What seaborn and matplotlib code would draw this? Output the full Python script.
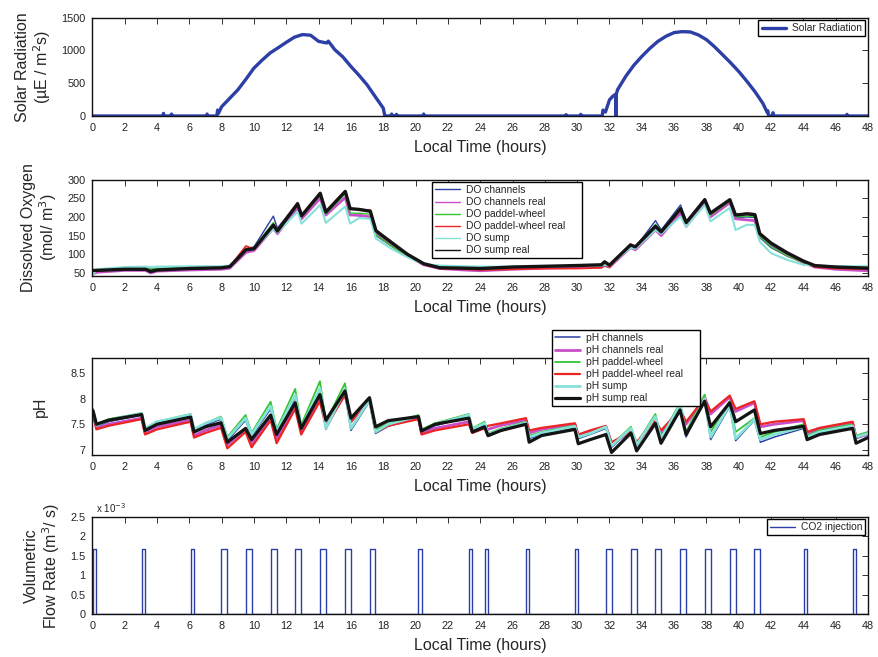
import matplotlib
matplotlib.use("Agg")
import matplotlib.pyplot as plt
import seaborn as sns
import pandas as pd

# ---------------- data ----------------
solar_t = [0, 4.38, 4.4, 4.42, 4.88, 4.9, 4.92, 7.08, 7.1, 7.12, 7.7, 7.75, 7.8, 8.0, 8.5, 9, 9.5,
           10, 10.5, 11, 11.5, 12, 12.5, 13, 13.5, 14, 14.5, 14.6, 15, 15.5, 16, 16.5, 17, 17.5,
           18, 18.1, 18.5, 18.52, 18.54, 18.8, 18.82, 18.84, 20.48, 20.5, 20.52, 29.3, 29.32,
           29.34, 30.2, 30.22, 30.24, 31.55, 31.6, 31.75, 32.0, 32.2, 32.38, 32.4, 32.42, 32.5,
           33, 33.5, 34, 34.5, 35, 35.5, 36, 36.5, 37, 37.5, 38, 38.5, 39, 39.5, 40, 40.5, 41,
           41.5, 41.75, 41.8, 41.85, 42.1, 42.12, 42.14, 46.68, 46.7, 46.72, 48]
solar_v = [0, 0, 40, 0, 0, 30, 0, 0, 30, 0, 0, 90, 40, 142, 270, 398, 560,
           730, 850, 960, 1040, 1122, 1200, 1240, 1230, 1137, 1112, 1140, 1010, 900, 754, 620, 474, 296,
           120, 0, 0, 30, 0, 0, 25, 0, 0, 30, 0, 0, 20,
           0, 0, 25, 0, 0, 90, 60, 245, 300, 330, 0, 330, 400,
           601, 770, 907, 1030, 1137, 1215, 1270, 1285, 1280, 1235, 1163, 1055, 933, 810, 678, 530, 372,
           190, 60, 80, 0, 0, 50, 0, 0, 25, 0, 0]

do_t = [0, 0.3, 2, 3.3, 3.6, 4, 6, 8, 8.5, 9.5, 10, 11.2, 11.45, 12.7, 12.95, 14.1, 14.45, 15.65,
        15.95, 16.5, 17.2, 17.55, 18.5, 19.5, 20.5, 21.5, 23, 24, 26, 28, 30, 31.5, 31.7, 32, 33.3,
        33.6, 34.85, 35.2, 36.4, 36.75, 37.9, 38.25, 39.45, 39.8, 40.5, 41, 41.3, 42, 43, 44, 44.7,
        46, 48]
do_channels = [45, 58, 62, 62, 60, 62, 64, 65, 68, 115, 120, 202, 170, 238, 205, 255, 210, 252,
               205, 203, 200, 150, 122, 95, 74, 66, 64, 63, 65, 67, 69, 70, 72, 70, 122,
               118, 190, 165, 232, 188, 242, 205, 240, 198, 200, 198, 145, 118, 95, 78, 68, 66, 65]
do_channels_real = [48, 52, 57, 57, 50, 55, 58, 60, 63, 105, 110, 170, 155, 225, 195, 250, 205, 252,
                    205, 205, 200, 155, 125, 97, 72, 62, 58, 56, 60, 63, 65, 66, 70, 66, 118,
                    112, 165, 150, 210, 175, 238, 200, 238, 195, 192, 190, 148, 125, 98, 78, 66, 60, 56]
do_paddle = [50, 58, 62, 62, 60, 62, 64, 65, 67, 113, 118, 185, 165, 232, 200, 258, 208, 262,
             210, 210, 207, 152, 122, 95, 73, 66, 64, 63, 65, 67, 69, 70, 74, 70, 122,
             118, 180, 162, 225, 186, 244, 205, 242, 200, 202, 200, 148, 120, 96, 78, 68, 66, 64]
do_paddle_real = [55, 58, 60, 60, 55, 58, 62, 64, 67, 122, 114, 180, 165, 238, 205, 265, 215, 270,
                  222, 220, 218, 165, 130, 98, 73, 62, 60, 58, 60, 62, 62, 64, 72, 65, 127,
                  120, 172, 158, 220, 185, 248, 210, 246, 205, 210, 208, 158, 130, 102, 80, 66, 62, 60]
do_sump = [45, 60, 66, 67, 66, 67, 68, 68, 70, 110, 115, 168, 158, 214, 182, 232, 184, 228,
           182, 197, 195, 142, 115, 92, 74, 70, 68, 67, 67, 68, 69, 70, 72, 70, 118,
           115, 165, 155, 201, 174, 232, 188, 224, 165, 179, 178, 134, 103, 85, 72, 70, 68, 68]
do_sump_real = [57, 57, 60, 60, 54, 58, 62, 64, 67, 112, 115, 178, 162, 235, 203, 263, 213, 268,
                222, 220, 215, 163, 132, 100, 75, 64, 63, 62, 66, 68, 70, 72, 80, 71, 125,
                120, 175, 160, 222, 185, 246, 210, 246, 205, 208, 206, 155, 130, 104, 82, 70, 66, 63]

ph_t = [0, 0.05, 0.25, 1.0, 3.05, 3.26, 4.0, 6.08, 6.29, 7.0,
        7.96, 8.35, 9.48, 9.85, 11.03, 11.40, 12.55, 12.92, 14.08, 14.45,
        15.63, 16.00, 17.15, 17.52, 18.3, 20.18, 20.37, 21.2, 23.30, 23.51,
        24.27, 24.48, 25.3, 26.83, 27.03, 27.8, 29.86, 30.07, 30.8, 31.78,
        32.13, 33.33, 33.68, 34.84, 35.19, 36.37, 36.74, 37.89, 38.26, 39.44,
        39.81, 40.97, 41.34, 42.2, 44.02, 44.23, 45.0, 47.05, 47.26, 48.0]
ph_channels = [7.75, 7.73, 7.45, 7.55, 7.68, 7.38, 7.52, 7.66, 7.36, 7.48,
               7.60, 7.18, 7.58, 7.26, 7.80, 7.32, 8.02, 7.38, 8.15, 7.40,
               8.12, 7.38, 7.95, 7.32, 7.46, 7.63, 7.35, 7.47, 7.65, 7.37,
               7.50, 7.26, 7.37, 7.50, 7.22, 7.30, 7.43, 7.22, 7.30, 7.42,
               7.05, 7.40, 7.08, 7.62, 7.18, 7.85, 7.25, 7.98, 7.20, 7.85,
               7.18, 7.58, 7.15, 7.25, 7.42, 7.22, 7.32, 7.45, 7.22, 7.30]
ph_channels_real = [7.72, 7.70, 7.42, 7.50, 7.62, 7.33, 7.45, 7.58, 7.28, 7.38,
                    7.48, 7.10, 7.40, 7.12, 7.65, 7.20, 7.88, 7.35, 8.02, 7.50,
                    8.10, 7.55, 7.98, 7.38, 7.50, 7.62, 7.33, 7.42, 7.55, 7.35,
                    7.45, 7.40, 7.48, 7.58, 7.33, 7.40, 7.50, 7.28, 7.35, 7.45,
                    7.12, 7.35, 7.12, 7.58, 7.33, 7.80, 7.50, 8.03, 7.70, 8.03,
                    7.75, 7.92, 7.45, 7.50, 7.57, 7.33, 7.40, 7.52, 7.25, 7.30]
ph_paddle = [7.80, 7.78, 7.50, 7.60, 7.72, 7.42, 7.55, 7.70, 7.40, 7.52,
             7.65, 7.25, 7.68, 7.33, 7.94, 7.40, 8.19, 7.48, 8.34, 7.55,
             8.30, 7.55, 8.00, 7.40, 7.52, 7.68, 7.40, 7.52, 7.70, 7.42,
             7.55, 7.32, 7.42, 7.55, 7.28, 7.35, 7.48, 7.25, 7.33, 7.45,
             7.10, 7.45, 7.12, 7.70, 7.25, 7.92, 7.35, 8.08, 7.35, 7.95,
             7.35, 7.62, 7.25, 7.35, 7.50, 7.28, 7.38, 7.50, 7.28, 7.35]
ph_paddle_real = [7.70, 7.68, 7.40, 7.47, 7.60, 7.30, 7.40, 7.55, 7.24, 7.33,
                  7.43, 7.03, 7.35, 7.05, 7.58, 7.13, 7.80, 7.30, 7.95, 7.45,
                  8.07, 7.55, 7.97, 7.35, 7.47, 7.60, 7.30, 7.38, 7.50, 7.33,
                  7.42, 7.47, 7.52, 7.62, 7.38, 7.43, 7.52, 7.30, 7.38, 7.47,
                  7.15, 7.35, 7.15, 7.58, 7.38, 7.78, 7.55, 8.00, 7.75, 8.06,
                  7.80, 7.95, 7.50, 7.55, 7.60, 7.35, 7.43, 7.55, 7.25, 7.32]
ph_sump = [7.78, 7.76, 7.48, 7.58, 7.71, 7.42, 7.55, 7.69, 7.40, 7.52,
           7.63, 7.22, 7.62, 7.30, 7.85, 7.35, 8.07, 7.42, 8.20, 7.42,
           8.18, 7.42, 7.98, 7.35, 7.50, 7.66, 7.38, 7.50, 7.68, 7.40,
           7.52, 7.30, 7.40, 7.53, 7.25, 7.33, 7.46, 7.25, 7.32, 7.45,
           7.08, 7.42, 7.10, 7.65, 7.22, 7.88, 7.30, 8.00, 7.25, 7.88,
           7.22, 7.60, 7.20, 7.30, 7.45, 7.25, 7.35, 7.47, 7.25, 7.32]
ph_sump_real = [7.78, 7.75, 7.50, 7.58, 7.69, 7.38, 7.50, 7.64, 7.35, 7.45,
                7.53, 7.15, 7.42, 7.20, 7.68, 7.30, 7.92, 7.42, 8.08, 7.58,
                8.15, 7.62, 8.02, 7.45, 7.57, 7.65, 7.37, 7.50, 7.62, 7.35,
                7.45, 7.28, 7.38, 7.50, 7.15, 7.28, 7.40, 7.12, 7.20, 7.30,
                6.95, 7.33, 6.98, 7.52, 7.13, 7.78, 7.30, 7.95, 7.45, 7.92,
                7.55, 7.78, 7.32, 7.38, 7.46, 7.20, 7.30, 7.42, 7.13, 7.24]

co2_start = [0.05, 3.05, 6.08, 7.96, 9.48, 11.03, 12.55, 14.08, 15.63, 17.15, 20.18,
             23.30, 24.27, 26.83, 29.86, 31.78, 33.33, 34.84, 36.37, 37.89, 39.44, 40.97,
             44.02, 47.05]
co2_end = [0.25, 3.26, 6.29, 8.35, 9.85, 11.40, 12.92, 14.45, 16.00, 17.52, 20.37,
           23.51, 24.48, 27.03, 30.07, 32.13, 33.68, 35.19, 36.74, 38.26, 39.81, 41.34,
           44.23, 47.26]
co2_level = 1.67e-3

x_ticks = list(range(0, 49, 2))
solar_ticks = [0, 500, 1000, 1500]
do_ticks = [50, 100, 150, 200, 250, 300]
ph_ticks = [7, 7.5, 8, 8.5]
flow_ticks = [0, 0.5e-3, 1e-3, 1.5e-3, 2e-3, 2.5e-3]
flow_tick_labels = ["0", "0.5", "1", "1.5", "2", "2.5"]

# ---------------- style ----------------
sns.set_style("white")
plt.rcParams["font.family"] = ["Liberation Sans", "DejaVu Sans"]
plt.rcParams["axes.linewidth"] = 1.0

C_BLUE = "#2c3fa6"
C_MAG = "#c94fc9"
C_GREEN = "#33c433"
C_RED = "#ec2424"
C_CYAN = "#86e2d8"
C_BLACK = "#141414"

fig = plt.figure(figsize=(8.79, 6.57), dpi=100)
left = 92.4 / 879
width = (868 - 92.4) / 879


def mk_ax(top_px, bot_px):
    return fig.add_axes([left, 1 - bot_px / 657, width, (bot_px - top_px) / 657])


ax1 = mk_ax(17.5, 116)
ax2 = mk_ax(179.5, 276)
ax3 = mk_ax(357.7, 455)
ax4 = mk_ax(516.7, 614.3)

LBL = 11.5
TCK = 7.8
LEG = 7.4


def style(ax):
    ax.set_xlim(0, 48)
    ax.set_xticks(x_ticks)
    ax.tick_params(direction="in", top=True, right=True, length=4, width=0.7,
                   labelsize=TCK, colors="#333333", pad=5)
    ax.tick_params(labelcolor="#222222")
    for s in ax.spines.values():
        s.set_color("#111111")
        s.set_linewidth(1.0)
    ax.set_xlabel("Local Time (hours)", fontsize=LBL, labelpad=5)


def line(ax, x, y, color, lw, label):
    df = pd.DataFrame({"t": x, "v": y})
    sns.lineplot(data=df, x="t", y="v", ax=ax, color=color, linewidth=lw, label=label,
                 estimator=None, sort=False, errorbar=None)


def legend(ax, **kw):
    leg = ax.legend(fontsize=LEG, frameon=True, fancybox=False, framealpha=1,
                    edgecolor="black", borderpad=0.3, labelspacing=0.2,
                    handlelength=2.4, handletextpad=0.6, **kw)
    leg.get_frame().set_linewidth(1.0)
    return leg


def fig_box(x0, y0, x1, y1):
    return (x0 / 879, 1 - y1 / 657, (x1 - x0) / 879, (y1 - y0) / 657)


# Panel 1: solar
line(ax1, solar_t, solar_v, C_BLUE, 2.4, "Solar Radiation")
style(ax1)
ax1.set_ylim(0, 1500)
ax1.set_yticks(solar_ticks)
ax1.set_ylabel("Solar Radiation\n(µE / m$^2$s)", fontsize=LBL, linespacing=1.1, labelpad=6)
legend(ax1, loc="upper right", borderaxespad=0.25)

# Panel 2: DO
line(ax2, do_t, do_channels, C_BLUE, 1.0, "DO channels")
line(ax2, do_t, do_channels_real, C_MAG, 2.0, "DO channels real")
line(ax2, do_t, do_paddle, C_GREEN, 1.0, "DO paddel-wheel")
line(ax2, do_t, do_paddle_real, C_RED, 1.3, "DO paddel-wheel real")
line(ax2, do_t, do_sump, C_CYAN, 1.5, "DO sump")
line(ax2, do_t, do_sump_real, C_BLACK, 2.4, "DO sump real")
style(ax2)
ax2.set_ylim(42, 300)
ax2.set_yticks(do_ticks)
ax2.set_ylabel("Dissolved Oxygen\n(mol/ m$^3$)", fontsize=LBL, linespacing=1.1, labelpad=6)
lg2 = legend(ax2, loc="upper left", bbox_to_anchor=fig_box(432, 182, 582, 258),
             bbox_transform=fig.transFigure, borderaxespad=0, mode="expand")
for h in lg2.get_lines():
    h.set_linewidth(1.0)

# Panel 3: pH
line(ax3, ph_t, ph_channels, C_BLUE, 1.1, "pH channels")
line(ax3, ph_t, ph_channels_real, C_MAG, 2.0, "pH channels real")
line(ax3, ph_t, ph_paddle, C_GREEN, 1.3, "pH paddel-wheel")
line(ax3, ph_t, ph_paddle_real, C_RED, 1.6, "pH paddel-wheel real")
line(ax3, ph_t, ph_sump, C_CYAN, 2.0, "pH sump")
line(ax3, ph_t, ph_sump_real, C_BLACK, 2.3, "pH sump real")
style(ax3)
ax3.set_ylim(6.9, 8.8)
ax3.set_yticks(ph_ticks)
ax3.set_yticklabels(["7", "7.5", "8", "8.5"])
ax3.set_ylabel("pH", fontsize=LBL, labelpad=16)
legend(ax3, loc="upper left", bbox_to_anchor=fig_box(552, 330, 700, 407),
       bbox_transform=fig.transFigure, borderaxespad=0, mode="expand")

# Panel 4: CO2 flow
co2_x = [0.0]
co2_y = [0.0]
for s, e in zip(co2_start, co2_end):
    co2_x += [s, s, e, e]
    co2_y += [0.0, co2_level, co2_level, 0.0]
co2_x.append(48.0)
co2_y.append(0.0)
line(ax4, co2_x, co2_y, C_BLUE, 1.0, "CO2 injection")
style(ax4)
ax4.set_ylim(0, 2.5e-3)
ax4.set_yticks(flow_ticks)
ax4.set_yticklabels(flow_tick_labels)
ax4.set_ylabel("Volumetric\nFlow Rate (m$^3$/ s)", fontsize=LBL, linespacing=1.1, labelpad=6)
ax4.text(0.005, 1.015, "x 10$^{-3}$", transform=ax4.transAxes, fontsize=7,
         ha="left", va="bottom", color="#222222")
legend(ax4, loc="upper right", borderaxespad=0.25)

fig.savefig("out.png", dpi=100)
